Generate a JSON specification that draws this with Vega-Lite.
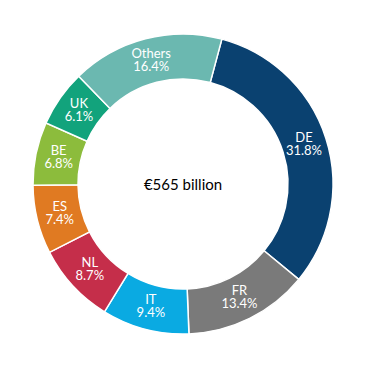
{
  "$schema": "https://vega.github.io/schema/vega-lite/v6.json",
  "width": 366,
  "height": 368,
  "padding": 0,
  "autosize": {"type": "none"},
  "background": "white",
  "config": {"view": {"stroke": null}},
  "layer": [
    {
      "data": {"values": [
        {"country": "DE", "share": 31.8, "ord": 1, "label": "DE\n31.8%"},
        {"country": "FR", "share": 13.4, "ord": 2, "label": "FR\n13.4%"},
        {"country": "IT", "share": 9.4, "ord": 3, "label": "IT\n9.4%"},
        {"country": "NL", "share": 8.7, "ord": 4, "label": "NL\n8.7%"},
        {"country": "ES", "share": 7.4, "ord": 5, "label": "ES\n7.4%"},
        {"country": "BE", "share": 6.8, "ord": 6, "label": "BE\n6.8%"},
        {"country": "UK", "share": 6.1, "ord": 7, "label": "UK\n6.1%"},
        {"country": "Others", "share": 16.4, "ord": 8, "label": "Others\n16.4%"}
      ]},
      "encoding": {
        "theta": {"field": "share", "type": "quantitative", "stack": true, "scale": {"range": [0.262, 6.5452]}},
        "order": {"field": "ord", "type": "quantitative"},
        "color": {
          "field": "country", "type": "nominal", "legend": null,
          "scale": {
            "domain": ["DE", "FR", "IT", "NL", "ES", "BE", "UK", "Others"],
            "range": ["#0a4170", "#7a7a7a", "#0aaae2", "#c52e4a", "#e07a22", "#8cbc3c", "#12a37c", "#6bb8b0"]
          }
        }
      },
      "layer": [
        {"mark": {"type": "arc", "outerRadius": 150, "innerRadius": 105, "stroke": "white", "strokeWidth": 1.5}},
        {
          "mark": {"type": "text", "radius": 127, "font": "Lato", "fontSize": 13, "lineHeight": 13, "lineBreak": "\n", "fill": "white", "align": "center", "baseline": "middle", "dy": -7},
          "encoding": {"text": {"field": "label"}, "color": {"value": "white"}}
        }
      ]
    },
    {
      "data": {"values": [{"t": "€565 billion"}]},
      "mark": {"type": "text", "font": "Lato", "fontSize": 15, "color": "black", "align": "center", "baseline": "middle", "dy": 1},
      "encoding": {"text": {"field": "t"}}
    }
  ]
}
